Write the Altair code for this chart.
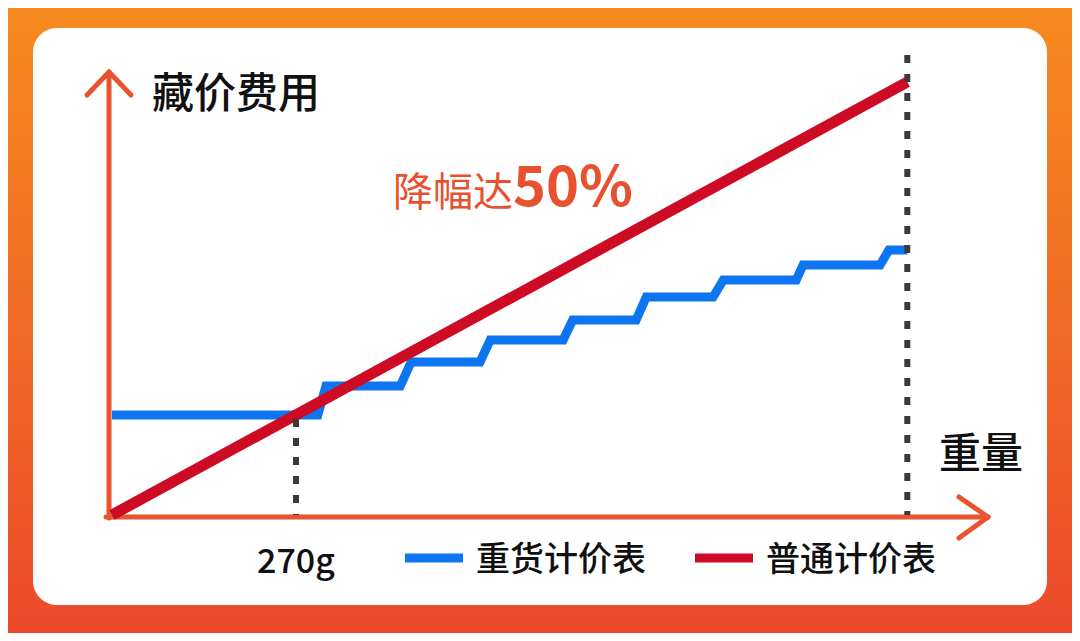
import altair as alt
import pandas as pd

# ---------------- data ----------------
series_names = ["重货计价表", "普通计价表"]
series_colors = ["#0E75F0", "#CE0B25"]

# heavy-goods pricing (stepped), weight in g, price in arbitrary units
heavy_w = [0, 302, 314, 423, 439, 540, 555, 662, 676, 769, 784, 882, 897, 1004, 1014, 1127, 1140, 1167]
heavy_p = [10, 10, 12.9, 12.9, 15.3, 15.3, 17.5, 17.5, 19.5, 19.5, 21.8, 21.8, 23.5, 23.5, 25.0, 25.0, 26.5, 26.5]

# normal pricing (linear)
normal_w = [0, 1167]
normal_p = [0, 43.3]

# reference dashed lines
mark_w = [270, 1167]
mark_top = [9.6, 46]
mark_bottom = [0, 0]
mark_labels = ["270g", ""]

y_title = "藏价费用"
x_title = "重量"
note_text = "降幅达"
note_num = "50%"

FONT = "Noto Sans CJK SC"
AXIS_COLOR = "#E9532E"

W, H = 1064, 625

heavy = pd.DataFrame({"w": heavy_w, "p": heavy_p, "s": series_names[0]})
normal = pd.DataFrame({"w": normal_w, "p": normal_p, "s": series_names[1]})
marks = pd.DataFrame({"w": mark_w, "top": mark_top, "bottom": mark_bottom, "label": mark_labels})
one = pd.DataFrame({"k": [0]})

xscale = alt.Scale(domain=[0, 1200], range=[104, 921.8], nice=False)
yscale = alt.Scale(domain=[0, 50], range=[507, 7], nice=False)
cscale = alt.Scale(domain=series_names, range=series_colors)

# ---------------- decorations ----------------
bg = alt.Chart(one).mark_rect(
    color=alt.LinearGradient(
        gradient="linear",
        stops=[alt.GradientStop(offset=0, color="#F68A1E"),
               alt.GradientStop(offset=1, color="#EC4A2B")],
        x1=0, x2=0, y1=0, y2=1,
    )
).encode(x=alt.value(0), x2=alt.value(W), y=alt.value(0), y2=alt.value(H))

card = alt.Chart(one).mark_rect(color="white", cornerRadius=24).encode(
    x=alt.value(25), x2=alt.value(1039), y=alt.value(20), y2=alt.value(597)
)


def seg(x1, y1, x2, y2, color=AXIS_COLOR, width=5, cap="round"):
    return alt.Chart(one).mark_rule(color=color, strokeWidth=width, strokeCap=cap).encode(
        x=alt.value(x1), y=alt.value(y1), x2=alt.value(x2), y2=alt.value(y2)
    )


axes_deco = [
    seg(101, 510, 101, 64),      # y axis
    seg(79, 87, 101, 64),
    seg(123, 87, 101, 64),
    seg(98, 509, 980, 509),      # x axis
    seg(951, 489, 980, 509),
    seg(951, 530, 980, 509),
]

# ---------------- data marks ----------------
blue = alt.Chart(heavy).mark_line(strokeWidth=9, strokeJoin="miter").encode(
    x=alt.X("w:Q", scale=xscale, axis=None),
    y=alt.Y("p:Q", scale=yscale, axis=None),
    color=alt.Color("s:N", scale=cscale, legend=None),
)
red = alt.Chart(normal).mark_line(strokeWidth=11, strokeCap="butt").encode(
    x=alt.X("w:Q", scale=xscale, axis=None),
    y=alt.Y("p:Q", scale=yscale, axis=None),
    color=alt.Color("s:N", scale=cscale, legend=None),
)
dashes = alt.Chart(marks).mark_rule(strokeDash=[8, 11], strokeWidth=6, color="#3A3A3A").encode(
    x=alt.X("w:Q", scale=xscale, axis=None),
    y=alt.Y("top:Q", scale=yscale, axis=None),
    y2="bottom:Q",
)
w_label = alt.Chart(marks).mark_text(font=FONT, fontSize=34, color="#111111", baseline="middle",
                                     align="center", fontWeight=500).encode(
    x=alt.X("w:Q", scale=xscale, axis=None),
    y=alt.value(555),
    text="label:N",
)

# ---------------- texts ----------------
t_y = alt.Chart(one).mark_text(text=y_title, font=FONT, fontSize=42, fontWeight=500, color="#111111",
                               align="left", baseline="middle").encode(x=alt.value(144), y=alt.value(87))
t_x = alt.Chart(one).mark_text(text=x_title, font=FONT, fontSize=42, fontWeight=500, color="#111111",
                               align="left", baseline="middle").encode(x=alt.value(931), y=alt.value(447))
t_note = alt.Chart(one).mark_text(text=note_text, font=FONT, fontSize=40, color="#E8512F",
                                  align="left", baseline="alphabetic").encode(x=alt.value(385), y=alt.value(198))
t_num = alt.Chart(one).mark_text(text=note_num, font=FONT, fontSize=56, fontWeight="bold", color="#E8512F",
                                 align="left", baseline="alphabetic").encode(x=alt.value(505), y=alt.value(198))

# ---------------- legend (manual) ----------------
legend_layers = []
leg_x = [397, 687]
for i, name in enumerate(series_names):
    legend_layers.append(seg(leg_x[i], 550, leg_x[i] + 58, 550, color=series_colors[i], width=9, cap="butt"))
    legend_layers.append(
        alt.Chart(one).mark_text(text=name, font=FONT, fontSize=34, fontWeight=500, color="#111111",
                                 align="left", baseline="middle").encode(x=alt.value(leg_x[i] + 71), y=alt.value(553))
    )

chart = alt.layer(
    bg, card, *axes_deco, blue, red, dashes, w_label, t_y, t_x, t_note, t_num, *legend_layers
).properties(
    width=W, height=H, padding=0, autosize=alt.AutoSizeParams(type="none")
).configure_view(stroke=None)

chart.save("out.html", embed_options={"renderer": "svg", "actions": False})
